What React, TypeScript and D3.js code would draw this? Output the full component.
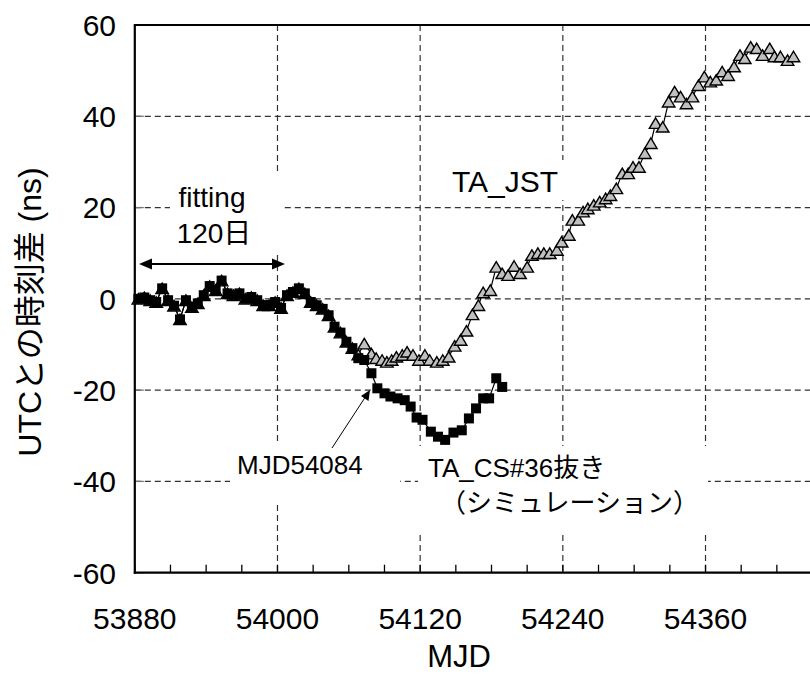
import React from "react";
import * as d3 from "d3";

const WIDTH = 810;
const HEIGHT = 685;
const FONT = "'Liberation Sans', Arial, 'Noto Sans CJK JP', sans-serif";

// TA_CS#36抜き (simulation) — MJD and offset from UTC in ns
const csMjd = [
  53883, 53888, 53893, 53898, 53903, 53908, 53913, 53918, 53923, 53928,
  53933, 53938, 53943, 53948, 53953, 53958, 53963, 53968, 53973, 53978,
  53983, 53988, 53993, 53998, 54003, 54008, 54013, 54018, 54023, 54028,
  54033, 54038, 54043, 54048, 54053, 54058, 54063, 54068, 54073, 54079,
  54084, 54090, 54095, 54101, 54107, 54112, 54117, 54122, 54129, 54135,
  54141, 54148, 54155, 54161, 54167, 54173, 54178, 54184, 54189,
];
const csValues = [
  0.0, 0.3, -0.3, -0.7, 2.3, -0.3, -1.5, -4.5, -0.3, -1.8,
  -1.0, 0.8, 2.8, 1.9, 4.0, 1.2, 0.8, 1.2, 0.0, 0.4,
  -0.3, -1.4, -1.4, -0.7, -2.0, 0.8, 1.5, 2.3, 1.2, -0.7,
  -1.4, -2.2, -3.6, -6.1, -7.4, -9.4, -10.8, -13.0, -13.4, -16.3,
  -19.6, -20.7, -21.4, -21.8, -22.2, -23.6, -26.0, -26.5, -29.1, -30.2,
  -30.9, -29.3, -28.8, -26.2, -24.0, -21.8, -21.8, -17.4, -19.3,
];

// TA_JST — MJD and offset from UTC in ns
const jstMjd = [
  53883, 53888, 53893, 53898, 53903, 53908, 53913, 53918, 53923, 53928,
  53933, 53938, 53943, 53948, 53953, 53958, 53963, 53968, 53973, 53978,
  53983, 53988, 53993, 53998, 54003, 54008, 54013, 54018, 54023, 54028,
  54033, 54038, 54043, 54048, 54053, 54058, 54063, 54068, 54073, 54079,
  54083, 54088, 54092, 54096, 54100, 54105, 54109, 54114, 54119, 54124,
  54128, 54134, 54139, 54144, 54149, 54154, 54159, 54164, 54169, 54173,
  54179, 54184, 54189, 54194, 54199, 54204, 54210, 54214, 54219, 54224,
  54229, 54235, 54239, 54245, 54248, 54253, 54257, 54261, 54266, 54271,
  54276, 54280, 54285, 54290, 54295, 54299, 54304, 54309, 54314, 54318,
  54324, 54329, 54334, 54339, 54344, 54349, 54354, 54359, 54364, 54369,
  54374, 54379, 54384, 54389, 54393, 54398, 54403, 54408, 54414, 54418,
  54423, 54429, 54434,
];
const jstValues = [
  0.0, 0.3, -0.3, -0.7, 2.3, -0.3, -1.5, -4.5, -0.3, -1.8,
  -1.0, 0.8, 2.8, 1.9, 4.0, 1.2, 0.8, 1.2, 0.0, 0.4,
  -0.3, -1.4, -1.4, -0.7, -2.0, 0.8, 1.5, 2.3, 1.2, -0.7,
  -1.4, -2.2, -3.6, -6.1, -7.4, -9.4, -10.8, -12.2, -9.8, -12.0,
  -13.0, -13.4, -13.8, -13.4, -12.7, -12.3, -11.6, -12.3, -13.4, -12.3,
  -13.4, -13.8, -13.4, -12.7, -10.3, -9.0, -7.0, -3.4, -1.4, 1.4,
  1.9, 7.0, 5.6, 5.2, 7.2, 5.6, 7.0, 9.6, 10.0, 10.0,
  10.0, 10.7, 12.5, 14.0, 17.3, 17.3, 19.1, 19.8, 20.6, 21.3,
  22.0, 22.7, 24.2, 27.5, 27.5, 28.9, 28.9, 31.9, 34.1, 38.5,
  37.7, 43.2, 45.4, 44.3, 42.8, 44.3, 46.8, 48.7, 47.6, 48.0,
  49.8, 49.0, 50.9, 53.4, 52.7, 55.2, 54.9, 53.4, 54.9, 53.1,
  53.1, 52.3, 53.1,
];

const xTickLabels = [53880, 54000, 54120, 54240, 54360];
const xGridValues = [54000, 54120, 54240, 54360, 54480];
const yTickValues = [-60, -40, -20, 0, 20, 40, 60];
const yGridValues = [-40, -20, 0, 20, 40];

const xScale = d3.scaleLinear().domain([53880, 54480]).range([134.8, 848.2]);
const yScale = d3.scaleLinear().domain([-60, 60]).range([572.7, 25]);

const minorTicks = d3.range(53880, 54481, 30);

type Pt = [number, number];
const csPoints: Pt[] = csMjd.map((m, i) => [m, csValues[i]]);
const jstPoints: Pt[] = jstMjd.map((m, i) => [m, jstValues[i]]);

const lineGen = d3
  .line<Pt>()
  .x((d) => xScale(d[0]))
  .y((d) => yScale(d[1]));

const TRI_W = 12.5;
const TRI_H = 10.5;
const SQ = 10;

function trianglePath(cx: number, cy: number) {
  return `M${cx},${cy - TRI_H / 2}L${cx + TRI_W / 2},${cy + TRI_H / 2}L${cx - TRI_W / 2},${cy + TRI_H / 2}Z`;
}

export default function App() {
  const left = xScale.range()[0];
  const right = WIDTH;
  const top = yScale(60);
  const bottom = yScale(-60);

  return (
    <svg
      width={WIDTH}
      height={HEIGHT}
      viewBox={`0 0 ${WIDTH} ${HEIGHT}`}
      style={{ position: "absolute", left: 0, top: 0, background: "#fff" }}
      fontFamily={FONT}
    >
      <rect x={0} y={0} width={WIDTH} height={HEIGHT} fill="#fff" />

      {/* dashed grid */}
      <g stroke="#333" strokeWidth={1.2} strokeDasharray="6,4" fill="none">
        {yGridValues.map((v) => (
          <line key={`hy${v}`} x1={left} x2={right} y1={yScale(v)} y2={yScale(v)} />
        ))}
        {xGridValues.map((v) => (
          <line key={`vx${v}`} x1={xScale(v)} x2={xScale(v)} y1={top} y2={bottom} />
        ))}
      </g>

      {/* white backgrounds of the text boxes */}
      <g fill="#fff">
        <rect x={170} y={172} width={112} height={80} />
        <rect x={445} y={160} width={122} height={40} />
        <rect x={230} y={444} width={170} height={59} />
        <rect x={418} y={446} width={290} height={89} />
      </g>

      {/* tick marks */}
      <g stroke="#000" strokeWidth={1.3}>
        {minorTicks.map((m) => (
          <line key={`mt${m}`} x1={xScale(m)} x2={xScale(m)} y1={bottom} y2={bottom - 8} />
        ))}
        {yTickValues.map((v) => (
          <line key={`yt${v}`} x1={left} x2={left + 9} y1={yScale(v)} y2={yScale(v)} stroke="#777" />
        ))}
      </g>

      {/* axes frame */}
      <g stroke="#000" strokeWidth={2.2} fill="none">
        <line x1={left - 1} x2={right} y1={top} y2={top} />
        <line x1={left - 1} x2={right} y1={bottom} y2={bottom} />
        <line x1={left} x2={left} y1={top} y2={bottom + 1} />
      </g>

      {/* TA_JST */}
      <path d={lineGen(jstPoints) || ""} fill="none" stroke="#000" strokeWidth={1.2} />
      <g fill="#c0c0c0" stroke="#000" strokeWidth={1.4} strokeLinejoin="miter">
        {jstPoints.map((d, i) => (
          <path key={`tri${i}`} d={trianglePath(xScale(d[0]), yScale(d[1]))} />
        ))}
      </g>

      {/* TA_CS#36 removed (simulation) */}
      <path d={lineGen(csPoints) || ""} fill="none" stroke="#000" strokeWidth={1.2} />
      <g fill="#000">
        {csPoints.map((d, i) => (
          <rect
            key={`sq${i}`}
            x={xScale(d[0]) - SQ / 2}
            y={yScale(d[1]) - SQ / 2}
            width={SQ}
            height={SQ}
          />
        ))}
      </g>

      {/* y tick labels */}
      <g fontSize={30} textAnchor="end" fill="#000">
        {yTickValues.map((v) => (
          <text key={`yl${v}`} x={116} y={yScale(v)} dy="0.36em">
            {v}
          </text>
        ))}
      </g>

      {/* x tick labels */}
      <g fontSize={30} textAnchor="middle" fill="#000">
        {xTickLabels.map((v) => (
          <text key={`xl${v}`} x={xScale(v)} y={629}>
            {v}
          </text>
        ))}
      </g>

      {/* axis titles */}
      <text x={459} y={667} fontSize={31} textAnchor="middle" fill="#000">
        MJD
      </text>
      <text
        transform="translate(41,312) rotate(-90)"
        fontSize={32}
        textAnchor="middle"
        fill="#000"
      >
        UTCとの時刻差 (ns)
      </text>

      {/* fitting span */}
      <text x={212} y={207} fontSize={28} textAnchor="middle" fill="#000">
        fitting
      </text>
      <text x={214} y={243} fontSize={28} textAnchor="middle" fill="#000">
        120日
      </text>
      <g fill="#000" stroke="#000">
        <line x1={146} x2={278} y1={264} y2={264} strokeWidth={2} />
        <path d="M139,264L152,258.5L152,269.5Z" stroke="none" />
        <path d="M285,264L272,258.5L272,269.5Z" stroke="none" />
      </g>

      {/* series labels */}
      <text x={452} y={192} fontSize={30} fill="#000">
        TA_JST
      </text>
      <text x={237} y={474} fontSize={26} fill="#000">
        MJD54084
      </text>
      <g stroke="#000" fill="#000">
        <line x1={332} y1={448} x2={366} y2={396} strokeWidth={1} />
        <path d="M370,390L368.5,401L361,396Z" stroke="none" />
      </g>
      <text x={428} y={477} fontSize={26} fill="#000">
        TA_CS#36抜き
      </text>
      <text x={440} y={512} fontSize={26} fill="#000">
        （シミュレーション）
      </text>
    </svg>
  );
}
